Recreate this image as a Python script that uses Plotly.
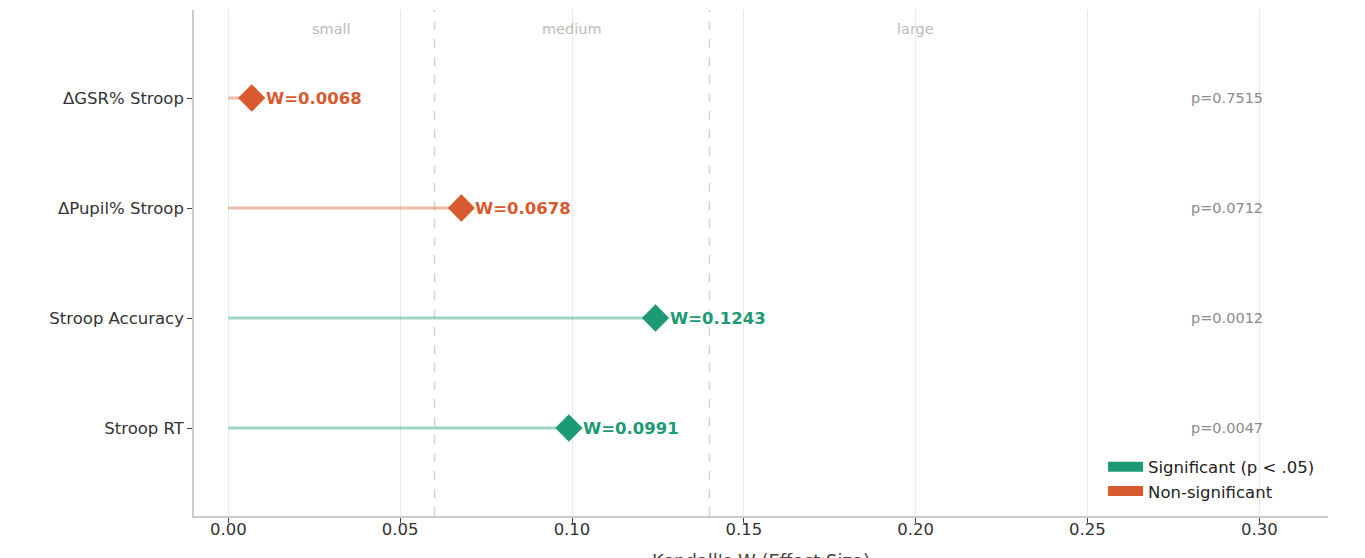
import plotly.graph_objects as go

# Effect sizes (Kendall's W) and p-values per measure, bottom to top
metrics = ["Stroop RT", "Stroop Accuracy", "ΔPupil% Stroop", "ΔGSR% Stroop"]
w_values = [0.0991, 0.1243, 0.0678, 0.0068]
p_values = [0.0047, 0.0012, 0.0712, 0.7515]

# Effect-size thresholds and zone labels
thresholds = [0.06, 0.14]
zone_labels = ["small", "medium", "large"]
zone_centers = [0.03, 0.10, 0.20]

x_ticks = [0.00, 0.05, 0.10, 0.15, 0.20, 0.25, 0.30]

GREEN = "#1b9a74"
ORANGE = "#d85a2f"
GREEN_LIGHT = "rgba(27,154,116,0.42)"
ORANGE_LIGHT = "rgba(216,90,47,0.42)"
FONT = "DejaVu Sans"

fig = go.Figure()

for i, (name, w, p) in enumerate(zip(metrics, w_values, p_values)):
    sig = p < 0.05
    col = GREEN if sig else ORANGE
    light = GREEN_LIGHT if sig else ORANGE_LIGHT
    # stem from zero to the effect size
    fig.add_trace(go.Scatter(
        x=[0, w], y=[i, i], mode="lines",
        line=dict(color=light, width=3), showlegend=False, hoverinfo="skip"))
    # diamond marker at the effect size
    fig.add_trace(go.Scatter(
        x=[w], y=[i], mode="markers",
        marker=dict(symbol="diamond", size=21, color=col, line=dict(width=0)),
        showlegend=False, name=name))
    fig.add_annotation(
        x=w, y=i, text=f"<b>W={w:.4f}</b>", showarrow=False,
        xanchor="left", yanchor="middle", xshift=12,
        font=dict(family=FONT, size=16.5, color=col))
    fig.add_annotation(
        x=0.28, y=i, text=f"p={p:.4f}", showarrow=False,
        xanchor="left", yanchor="middle", xshift=-2,
        font=dict(family=FONT, size=14.5, color="#8a8a8a"))

for t in thresholds:
    fig.add_shape(type="line", x0=t, x1=t, yref="paper", y0=0, y1=1,
                  line=dict(color="#d4d4d4", width=1.5, dash="dash"), layer="below")

for lab, xc in zip(zone_labels, zone_centers):
    fig.add_annotation(x=xc, y=3.63, text=lab, showarrow=False,
                       font=dict(family=FONT, size=14.5, color="#bbbbbb"))

# x-axis title, set below the tick labels
fig.add_annotation(x=0.5, xref="paper", y=-0.064, yref="paper",
                   text="Kendall's W (Effect Size)", showarrow=False,
                   xanchor="center", yanchor="top",
                   font=dict(family=FONT, size=18, color="#444444"))

# legend entries
fig.add_trace(go.Scatter(x=[None], y=[None], mode="lines",
                         line=dict(color=GREEN, width=13), name="Significant (p < .05)"))
fig.add_trace(go.Scatter(x=[None], y=[None], mode="lines",
                         line=dict(color=ORANGE, width=13), name="Non-significant"))

fig.update_layout(
    width=1365, height=558,
    margin=dict(l=194, r=37, t=10, b=42),
    paper_bgcolor="white", plot_bgcolor="white",
    font=dict(family=FONT, size=16.5, color="#333333"),
    legend=dict(x=0.993, y=0.015, xanchor="right", yanchor="bottom",
                bgcolor="rgba(0,0,0,0)", font=dict(family=FONT, size=16.5, color="#222222"),
                itemwidth=35, tracegroupgap=2),
    xaxis=dict(
        range=[-0.01, 0.32], tickvals=x_ticks,
        ticktext=[f"{v:.2f}" for v in x_ticks],
        showgrid=True, gridcolor="#ebebeb", gridwidth=1,
        zeroline=False, showline=True, linecolor="#cccccc", linewidth=1.5,
        ticks="outside", ticklen=5, tickcolor="#444444", tickwidth=1.2,
        ticklabelstandoff=-8,
        tickfont=dict(family=FONT, size=16.5, color="#333333"),
        automargin=False, mirror=False),
    yaxis=dict(
        range=[-0.8, 3.8], tickvals=list(range(len(metrics))), ticktext=metrics,
        showgrid=False, zeroline=False, showline=True, linecolor="#cccccc", linewidth=1.5,
        ticks="outside", ticklen=5, tickcolor="#444444", tickwidth=1.2,
        tickfont=dict(family=FONT, size=16.5, color="#333333"),
        automargin=False),
)

fig.write_html("out.html")
